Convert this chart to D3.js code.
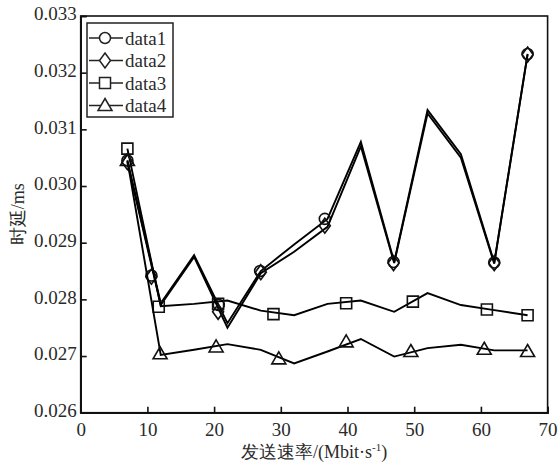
<!DOCTYPE html>
<html>
<head>
<meta charset="utf-8">
<script src="https://cdn.jsdelivr.net/npm/d3@7"></script>
<style>
body { margin: 0; background: #fff; }
text { font-family: "Liberation Serif", "Times New Roman", serif; fill: #2a2a2a; }
</style>
</head>
<body>
<div id="chart"></div>
<script>
// line vertices (x in Mbit/s)
var xs = [7, 12, 17, 22, 27, 32, 37, 42, 47, 52, 57, 62, 67];
var data1 = [0.03045, 0.02793, 0.02878, 0.02758, 0.02850, 0.02897, 0.02942, 0.03078, 0.02866, 0.03134, 0.03056, 0.02865, 0.03233];
var data2 = [0.03042, 0.02790, 0.02875, 0.02750, 0.02846, 0.02884, 0.02928, 0.03070, 0.02864, 0.03128, 0.03050, 0.02863, 0.03232];
var data3 = [0.03066, 0.02788, 0.02792, 0.02798, 0.02780, 0.02772, 0.02792, 0.02798, 0.02778, 0.02811, 0.02790, 0.02781, 0.02772];
var data4 = [0.03045, 0.02702, 0.02711, 0.02721, 0.02711, 0.02687, 0.02708, 0.02730, 0.02699, 0.02714, 0.02720, 0.02710, 0.02710];

// marker positions (markers are not on every vertex)
var mark1x = [7, 10.6, 20.7, 26.9, 36.6, 46.9, 62, 67];
var mark1y = [0.03045, 0.02842, 0.02790, 0.02850, 0.02942, 0.02866, 0.02865, 0.03233];
var mark2x = [7, 10.6, 20.6, 27, 36.6, 46.9, 62, 67];
var mark2y = [0.03042, 0.02840, 0.02778, 0.02848, 0.02930, 0.02864, 0.02864, 0.03232];
var mark3x = [7, 11.7, 20.6, 28.9, 39.8, 49.8, 60.9, 67];
var mark3y = [0.03066, 0.02787, 0.02792, 0.02774, 0.02793, 0.02796, 0.02782, 0.02772];
var mark4x = [7, 11.9, 20.3, 29.7, 39.8, 49.5, 60.5, 67];
var mark4y = [0.03045, 0.02704, 0.02716, 0.02695, 0.02725, 0.02708, 0.02712, 0.02708];

var xTicks = [0, 10, 20, 30, 40, 50, 60, 70];
var yTicks = [0.026, 0.027, 0.028, 0.029, 0.030, 0.031, 0.032, 0.033];
var seriesNames = ["data1", "data2", "data3", "data4"];
var markerTypes = ["circle", "diamond", "square", "triangle"];

var width = 559, height = 468;
var margin = {top: 16, right: 11.4, bottom: 55.3, left: 80.7};

var svg = d3.select("#chart").append("svg")
	.attr("width", width)
	.attr("height", height);

var xScale = d3.scaleLinear().domain([0, 70]).range([margin.left, width - margin.right]),
	yScale = d3.scaleLinear().domain([0.026, 0.033]).range([height - margin.bottom, margin.top]);

function markerPath(type, x, y) {
	if (type == "circle") {
		return d3.path().toString() + "M" + (x + 5.5) + "," + y + "A5.5,5.5 0 1,1 " + (x - 5.5) + "," + y + "A5.5,5.5 0 1,1 " + (x + 5.5) + "," + y + "Z";
	} else if (type == "diamond") {
		return "M" + x + "," + (y - 7.5) + "L" + (x + 5.5) + "," + y + "L" + x + "," + (y + 7.5) + "L" + (x - 5.5) + "," + y + "Z";
	} else if (type == "square") {
		return "M" + (x - 5.5) + "," + (y - 5.5) + "h11v11h-11Z";
	}
	return "M" + x + "," + (y - 7) + "L" + (x + 7) + "," + (y + 5) + "L" + (x - 7) + "," + (y + 5) + "Z";
}

// plot box
var x0 = xScale(0), x1 = xScale(70), y0 = yScale(0.026), y1 = yScale(0.033);
svg.append("rect")
	.attr("x", x0).attr("y", y1)
	.attr("width", x1 - x0).attr("height", y0 - y1)
	.attr("fill", "none")
	.attr("stroke", "#111")
	.attr("stroke-width", 1.6);

// inward ticks
var xAxis = d3.axisBottom(xScale).tickValues(xTicks).tickSize(-6).tickPadding(10).tickFormat(d3.format("d"));
var yAxis = d3.axisLeft(yScale).tickValues(yTicks).tickSize(-6).tickPadding(4).tickFormat(d3.format(".3f"));

var gx = svg.append("g")
	.attr("transform", "translate(0," + y0 + ")")
	.call(xAxis);
var gy = svg.append("g")
	.attr("transform", "translate(" + x0 + ",0)")
	.call(yAxis);

[gx, gy].forEach(function(g) {
	g.select(".domain").attr("stroke", "#111").attr("stroke-width", 1.6);
	g.selectAll(".tick line").attr("stroke", "#111").attr("stroke-width", 1.6);
	g.selectAll(".tick text")
		.style("font-family", "'Liberation Serif', serif")
		.style("font-size", "19px")
		.attr("fill", "#2a2a2a");
});
gx.selectAll(".tick text").attr("dy", "0.71em");
gy.selectAll(".tick text").attr("dy", "0.2em");

// lines
var allLines = [data1, data2, data3, data4];
var marksX = [mark1x, mark2x, mark3x, mark4x];
var marksY = [mark1y, mark2y, mark3y, mark4y];

var line = d3.line()
	.x(function(d, i) { return xScale(xs[i]); })
	.y(function(d) { return yScale(d); });

allLines.forEach(function(s, k) {
	svg.append("path")
		.attr("d", line(s))
		.attr("fill", "none")
		.attr("stroke", "#000")
		.attr("stroke-width", 1.9)
		.attr("stroke-linejoin", "miter");

	svg.append("g").selectAll("path")
		.data(marksX[k])
		.enter().append("path")
			.attr("d", function(d, i) { return markerPath(markerTypes[k], xScale(d), yScale(marksY[k][i])); })
			.attr("fill", "none")
			.attr("stroke", "#111")
			.attr("stroke-width", 1.6);
});

// legend
var legend = svg.append("g").attr("transform", "translate(87,23)");
legend.append("rect")
	.attr("width", 86).attr("height", 94)
	.attr("fill", "#fff")
	.attr("stroke", "#222")
	.attr("stroke-width", 1.5);

var item = legend.selectAll(".legend")
	.data(seriesNames)
	.enter().append("g")
		.attr("class", "legend")
		.attr("transform", function(d, i) { return "translate(0," + (15 + i * 22.5) + ")"; });

item.append("line")
	.attr("x1", 2).attr("x2", 36)
	.attr("stroke", "#222").attr("stroke-width", 1.6);
item.append("path")
	.attr("d", function(d, i) { return markerPath(markerTypes[i], 18, 0); })
	.attr("fill", "#fff")
	.attr("stroke", "#222")
	.attr("stroke-width", 1.5);
item.append("text")
	.attr("x", 38)
	.attr("dy", "0.35em")
	.style("font-size", "19px")
	.attr("fill", "#444")
	.text(function(d) { return d; });

// axis titles
svg.append("text")
	.attr("x", (x0 + x1) / 2)
	.attr("y", 458)
	.attr("text-anchor", "middle")
	.style("font-size", "18px")
	.html("发送速率/(Mbit·s<tspan dy='-7' style='font-size:11px'>-1</tspan><tspan dy='7'>)</tspan>");

svg.append("text")
	.attr("transform", "translate(24," + ((y0 + y1) / 2) + ") rotate(-90)")
	.attr("text-anchor", "middle")
	.style("font-size", "18px")
	.text("时延/ms");
</script>
</body>
</html>
